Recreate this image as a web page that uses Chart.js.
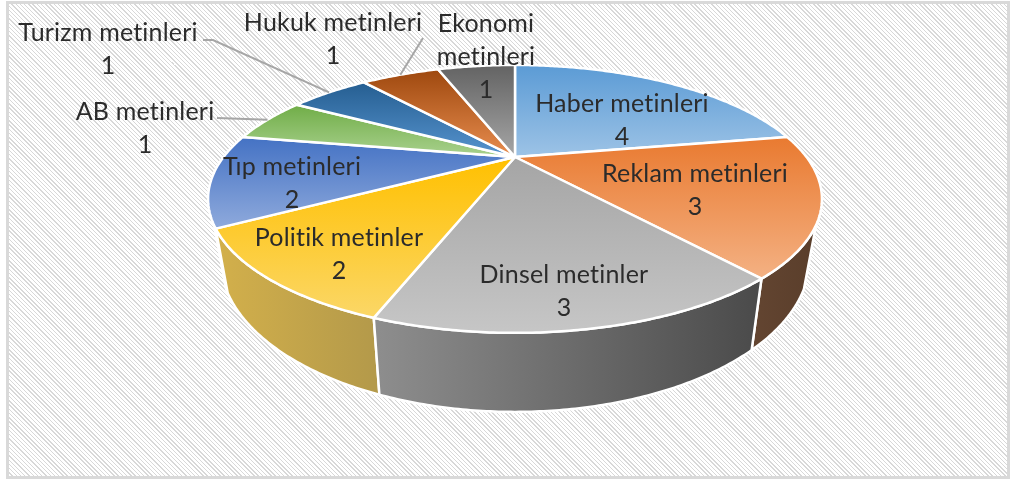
<!DOCTYPE html>
<html>
<head>
<meta charset="utf-8">
<script src="https://cdn.jsdelivr.net/npm/chart.js@4.4.1/dist/chart.umd.min.js"></script>
<style>
	html, body { margin: 0; padding: 0; background: #fff; }
	#frame {
		position: absolute; left: 6px; top: 1px; width: 998px; height: 472px;
		border: 3px solid #d9d9d9;
		background: repeating-linear-gradient(45deg, #fff 0, #fff 2px, #d8d8d8 2px, #d8d8d8 3px);
	}
	#chart { position: absolute; left: 0; top: 0; }
</style>
</head>
<body>
<div id="frame"></div>
<canvas id="chart" width="1011" height="483"></canvas>
<script>
// ----------------- DATA -----------------
const CATEGORIES = ['Haber metinleri', 'Reklam metinleri', 'Dinsel metinler', 'Politik metinler',
	'Tıp metinleri', 'AB metinleri', 'Turizm metinleri', 'Hukuk metinleri', 'Ekonomi metinleri'];
const COUNTS = [4, 3, 3, 2, 2, 1, 1, 1, 1];

// ----------------- STYLE -----------------
const TOP_DARK  = ['#5B9BD5', '#E97A30', '#A5A5A5', '#FFC000', '#4472C4', '#70AD47', '#255E91', '#9E480E', '#636363'];
const TOP_LIGHT = ['#9DC3E6', '#F4B183', '#C6C6C6', '#FBD767', '#8FAADC', '#A9D18E', '#5794CF', '#E88D4F', '#A6A6A6'];
const WALL = [
	['#3F6E99', '#34597C'], ['#634531', '#5A3E2B'], ['#8E8E8E', '#4A4A4A'],
	['#D3B04B', '#B3994A'], ['#3E63A8', '#3A5C9C'], ['#4F7B33', '#42672A'],
	['#1D4A72', '#183E60'], ['#753609', '#622D08'], ['#4A4A4A', '#3C3C3C']
];
const TEXT_COLOR = '#2b2b2b';
const FONT = '25px Lato';
const LINE_H = 33;

// label block centres and leader elbows (outside labels only)
const LABEL_POS = [[622, 120], [695, 190], [564, 291], [339, 254], [292, 183],
	[145, 128], [108, 49], [333, 39], [486, 57]];
const WRAP = { 8: ['Ekonomi', 'metinleri'] };
const LEADERS = { 5: [[217, 118]], 6: [[213, 40], [203, 40]], 7: [[423, 38]] };

// perspective of the tilted disc
const VIEW = { cx: 515, cy: 157, rx: 291.5, ry: 120.8, persp: 0.313, depth: 54.3, shrink: 0.96, edge: 0.5 };

function project(angle, r, drop) {
	const u = Math.cos(angle) * r, v = Math.sin(angle) * r;
	const d = 1 - VIEW.persp * v;
	const s = drop ? VIEW.shrink : 1;
	return { x: VIEW.cx + s * VIEW.rx * u / d, y: VIEW.cy + VIEW.ry * v / d + (drop ? VIEW.depth / d : 0) };
}

function rimPoints(a, b, drop) {
	const pts = [];
	const n = Math.max(2, Math.ceil((b - a) / 0.01));
	for (let k = 0; k <= n; k++) pts.push(project(a + (b - a) * k / n, 1, drop));
	return pts;
}

// ----------------- 3D PIE PLUGIN -----------------
const pie3d = {
	id: 'pie3d',
	beforeDatasetsDraw(chart) {
		const ctx = chart.ctx;
		const arcs = chart.getDatasetMeta(0).data;
		ctx.save();
		ctx.lineJoin = 'round';
		ctx.strokeStyle = '#fff';

		// side walls between the silhouette edges, far ones first
		const lo = VIEW.edge, hi = Math.PI - VIEW.edge;
		const walls = [];
		arcs.forEach((arc, i) => {
			const a = Math.max(arc.startAngle, lo), b = Math.min(arc.endAngle, hi);
			if (b > a) walls.push({ i, a, b });
		});
		walls.sort((p, q) => Math.abs((q.a + q.b) / 2 - Math.PI / 2) - Math.abs((p.a + p.b) / 2 - Math.PI / 2));
		walls.forEach(w => {
			const top = rimPoints(w.a, w.b, false);
			const bot = rimPoints(w.a, w.b, true).reverse();
			const pts = top.concat(bot);
			const xs = pts.map(p => p.x);
			const g = ctx.createLinearGradient(Math.min(...xs), 0, Math.max(...xs), 0);
			g.addColorStop(0, WALL[w.i][0]);
			g.addColorStop(1, WALL[w.i][1]);
			ctx.beginPath();
			pts.forEach((p, k) => k ? ctx.lineTo(p.x, p.y) : ctx.moveTo(p.x, p.y));
			ctx.closePath();
			ctx.fillStyle = g;
			ctx.fill();
			ctx.lineWidth = 2.5;
			ctx.stroke();
		});

		// top faces
		arcs.forEach((arc, i) => {
			const c = project(0, 0, false);
			const pts = [c].concat(rimPoints(arc.startAngle, arc.endAngle, false));
			const ys = pts.map(p => p.y);
			const g = ctx.createLinearGradient(0, Math.min(...ys), 0, Math.max(...ys));
			g.addColorStop(0, TOP_DARK[i]);
			g.addColorStop(1, TOP_LIGHT[i]);
			ctx.beginPath();
			pts.forEach((p, k) => k ? ctx.lineTo(p.x, p.y) : ctx.moveTo(p.x, p.y));
			ctx.closePath();
			ctx.fillStyle = g;
			ctx.fill();
			ctx.lineWidth = 2.5;
			ctx.stroke();
		});
		ctx.restore();
		return false;
	},
	afterDraw(chart) {
		const ctx = chart.ctx;
		const arcs = chart.getDatasetMeta(0).data;
		const labels = chart.data.labels;
		const values = chart.data.datasets[0].data;
		ctx.save();

		// leader lines
		ctx.strokeStyle = '#a6a6a6';
		ctx.lineWidth = 2;
		Object.keys(LEADERS).forEach(key => {
			const arc = arcs[key];
			const p = project((arc.startAngle + arc.endAngle) / 2, 1, false);
			ctx.beginPath();
			ctx.moveTo(p.x, p.y);
			LEADERS[key].forEach(q => ctx.lineTo(q[0], q[1]));
			ctx.stroke();
		});

		// labels
		ctx.fillStyle = TEXT_COLOR;
		ctx.font = FONT;
		ctx.letterSpacing = '0.2px'; // also stops the "ti" ligature
		ctx.textAlign = 'center';
		ctx.textBaseline = 'middle';
		labels.forEach((name, i) => {
			const lines = (WRAP[i] || [name]).concat([String(values[i])]);
			const [x, y] = LABEL_POS[i];
			const y0 = y - (lines.length - 1) * LINE_H / 2;
			lines.forEach((t, k) => ctx.fillText(t, x, y0 + k * LINE_H));
		});
		ctx.restore();
	}
};

// ----------------- INIT -----------------
new Chart(document.getElementById('chart').getContext('2d'), {
	type: 'pie',
	data: {
		labels: CATEGORIES,
		datasets: [{ data: COUNTS, backgroundColor: TOP_DARK, borderWidth: 0 }]
	},
	options: {
		responsive: false,
		animation: false,
		events: [],
		plugins: {
			legend: { display: false },
			tooltip: { enabled: false }
		}
	},
	plugins: [pie3d]
});
</script>
</body>
</html>
